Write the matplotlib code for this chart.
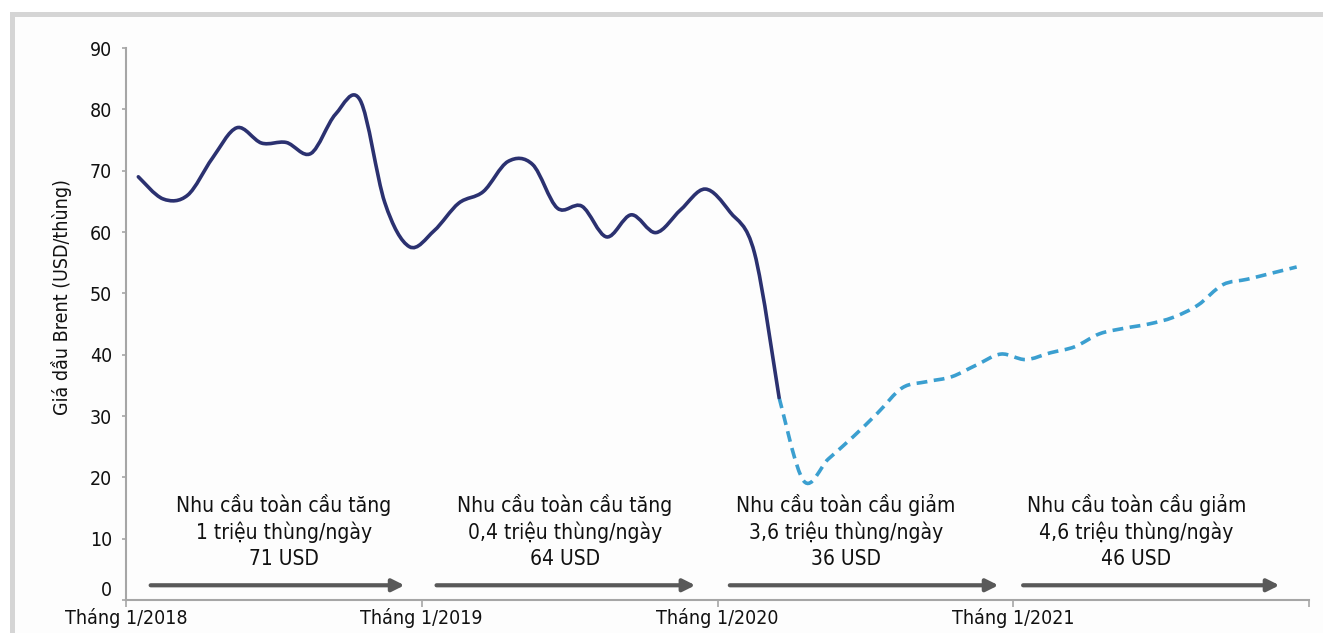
import numpy as np
import matplotlib.pyplot as plt
from matplotlib import font_manager
from matplotlib.path import Path
from matplotlib.patches import PathPatch, Rectangle

# look for a narrow face, the original uses a condensed sans
narrow = [f for f in font_manager.fontManager.ttflist
          if f.stretch in ("condensed", "semi-condensed", "extra-condensed")
          or "Narrow" in f.name or "Condensed" in f.name]
narrow.sort(key=lambda f: (f.weight not in (400, "normal", "regular"), "Italic" in f.style or f.style != "normal"))
if narrow:
    plt.rcParams["font.family"] = [narrow[0].name, "DejaVu Sans"]
    plt.rcParams["font.stretch"] = narrow[0].stretch
    NARROW = True
else:
    plt.rcParams["font.family"] = ["Lato", "DejaVu Sans"]
    NARROW = False

# Brent price, USD/barrel, monthly
# actual: Jan 2018 .. Mar 2020
price_actual = [69.0, 65.4, 66.0, 72.0, 77.0, 74.5, 74.6, 72.8, 79.2, 81.5,
                64.8, 57.6, 60.2, 64.7, 66.6, 71.5, 71.0, 63.9, 64.2, 59.2,
                62.8, 59.9, 63.6, 67.0, 63.3, 56.6, 33.0]
# forecast: Mar 2020 .. Dec 2021
price_forecast = [33.0, 19.4, 23.0, 26.6, 30.5, 34.6, 35.6, 36.4, 38.3, 40.1,
                  39.2, 40.3, 41.3, 43.4, 44.3, 45.0, 46.1, 48.1, 51.4, 52.3,
                  53.3, 54.3]
forecast_start = 26  # month index of Mar 2020

year_labels = ["Tháng 1/2018", "Tháng 1/2019", "Tháng 1/2020", "Tháng 1/2021", ""]
yticks = [0, 10, 20, 30, 40, 50, 60, 70, 80, 90]

period_notes = [
    "Nhu cầu toàn cầu tăng\n1 triệu thùng/ngày\n71 USD",
    "Nhu cầu toàn cầu tăng\n0,4 triệu thùng/ngày\n64 USD",
    "Nhu cầu toàn cầu giảm\n3,6 triệu thùng/ngày\n36 USD",
    "Nhu cầu toàn cầu giảm\n4,6 triệu thùng/ngày\n46 USD",
]
note_x = [6.4, 17.8, 29.2, 41.0]
arrow_from = [1.0, 12.6, 24.5, 36.4]
arrow_to = [11.3, 23.1, 35.4, 46.8]


def smooth_path(xs, ys):
    # excel-like smoothed line: catmull-rom as cubic bezier segments
    p = np.column_stack([xs, ys]).astype(float)
    ext = np.vstack([p[0], p, p[-1]])
    verts = [p[0]]
    codes = [Path.MOVETO]
    for i in range(len(p) - 1):
        p0, p1, p2, p3 = ext[i], ext[i + 1], ext[i + 2], ext[i + 3]
        verts += [p1 + (p2 - p0) / 6, p2 - (p3 - p1) / 6, p2]
        codes += [Path.CURVE4] * 3
    return Path(verts, codes)


fs_note = 15 if NARROW else 13.5
fs_tick = 14 if NARROW else 13

W, H = 1323, 633
fig = plt.figure(figsize=(W / 100, H / 100), dpi=100)
fig.patch.set_facecolor("white")
fig.patches.append(Rectangle((15 / W, 0), 1, 1 - 17 / H, transform=fig.transFigure,
                             facecolor="#fdfdfd", edgecolor="none", zorder=-3))
fig.patches.append(Rectangle((10 / W, 1 - 17 / H), 1, 5 / H, transform=fig.transFigure,
                             facecolor="#d5d5d5", edgecolor="none", zorder=-2))
fig.patches.append(Rectangle((10 / W, 0), 5 / W, 1 - 12 / H, transform=fig.transFigure,
                             facecolor="#d5d5d5", edgecolor="none", zorder=-2))

ax = fig.add_axes([126 / W, 1 - 600 / H, (1309 - 126) / W, (600 - 48) / H])
ax.set_facecolor("none")

x_actual = np.arange(len(price_actual)) + 0.5
x_forecast = np.arange(forecast_start, forecast_start + len(price_forecast)) + 0.5

ax.add_patch(PathPatch(smooth_path(x_forecast, price_forecast), fill=False,
                       edgecolor="#3b9fd0", lw=2.6, linestyle=(0, (3, 1.8)),
                       capstyle="butt", zorder=3))
ax.add_patch(PathPatch(smooth_path(x_actual, price_actual), fill=False,
                       edgecolor="#2b3170", lw=2.6, capstyle="round", zorder=4))

for x0, x1 in zip(arrow_from, arrow_to):
    ax.annotate("", xy=(x1, 2.4), xytext=(x0, 2.4),
                arrowprops=dict(arrowstyle="-|>,head_length=0.4,head_width=0.2",
                                mutation_scale=18, lw=3, color="#595959",
                                shrinkA=0, shrinkB=0))

for x, note in zip(note_x, period_notes):
    ax.text(x, 11.2, note, ha="center", va="center", fontsize=fs_note,
            linespacing=1.35, color="#111111")

ax.set_xlim(0, 48)
ax.set_ylim(0, 90)
ax.set_xticks(range(0, 49, 12))
ax.set_xticklabels(year_labels)
ax.set_yticks(yticks)

for s in ["top", "right"]:
    ax.spines[s].set_visible(False)
for s in ["left", "bottom"]:
    ax.spines[s].set_color("#a6a6a6")
    ax.spines[s].set_linewidth(1.5)

ax.tick_params(axis="y", length=3, width=1.2, color="#a6a6a6", pad=7,
               labelsize=fs_tick, labelcolor="#111111")
ax.tick_params(axis="x", length=5, width=1.2, color="#a6a6a6", pad=1,
               labelsize=fs_tick, labelcolor="#111111")
for lbl in ax.get_yticklabels():
    lbl.set_va("bottom" if lbl.get_text() == "0" else "center_baseline")

ax.set_ylabel("Giá dầu Brent (USD/thùng)", fontsize=fs_tick, color="#111111")
ax.yaxis.set_label_coords(-0.046, 0.549)

fig.savefig("out.png", dpi=100)
